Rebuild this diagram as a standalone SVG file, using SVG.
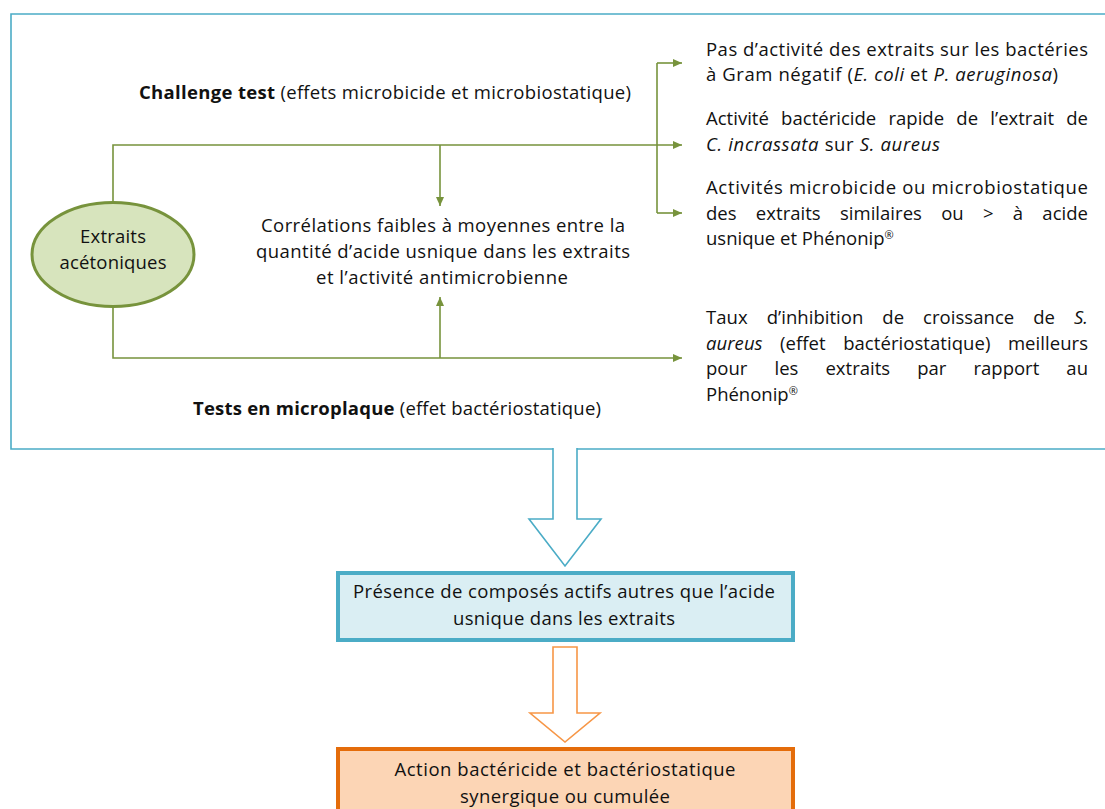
<svg xmlns="http://www.w3.org/2000/svg" width="1105" height="809" viewBox="0 0 1105 809">
<style>
text{font-family:"Open Sans","Noto Sans","Liberation Sans",sans-serif;font-size:18.5px;fill:#111}
.b{font-weight:bold}
.i{font-style:italic}
.m{text-anchor:middle}
.sup{font-size:11px}
.g{fill:none;stroke:#77933C;stroke-width:1.6}
</style>
<defs>
<marker id="ah" markerUnits="userSpaceOnUse" markerWidth="10" markerHeight="10" viewBox="0 0 10 10" refX="9" refY="5" orient="auto">
<path d="M0,1 L9,5 L0,9 Z" fill="#77933C"/>
</marker>
</defs>
<rect width="1105" height="809" fill="#fff"/>
<g id="frame">
<path d="M553,449 H11 V14 H1110 V449 H577" fill="none" stroke="#4BACC6" stroke-width="1.6"/>
</g>
<g id="connectors">
<path class="g" d="M113,203 V145 H682" marker-end="url(#ah)"/>
<path class="g" d="M657,63 H682" marker-end="url(#ah)"/>
<path class="g" d="M657,63 V213"/>
<path class="g" d="M657,213 H682" marker-end="url(#ah)"/>
<path class="g" d="M440,145 V206" marker-end="url(#ah)"/>
<path class="g" d="M113,306 V358 H682" marker-end="url(#ah)"/>
<path class="g" d="M440,358 V297" marker-end="url(#ah)"/>
<path d="M553,448 V519 H529 L565,566 L601,519 H577 V448" fill="#fff" stroke="#4BACC6" stroke-width="1.6"/>
<path d="M553,647 V713 H530 L565,742 L600,713 H577 V647 Z" fill="#fff" stroke="#F79646" stroke-width="1.6"/>
</g>
<g id="extraits">
<ellipse cx="113" cy="254.5" rx="81" ry="52" fill="#D7E4BD" stroke="#77933C" stroke-width="3"/>
<text class="m" x="113" y="243" textLength="66" lengthAdjust="spacing">Extraits</text>
<text class="m" x="113" y="269" textLength="107" lengthAdjust="spacing">acétoniques</text>
</g>
<g id="challenge">
<text x="139" y="99" textLength="492" lengthAdjust="spacing"><tspan class="b">Challenge test</tspan> (effets microbicide et microbiostatique)</text>
</g>
<g id="microplaque">
<text x="193" y="415" textLength="408" lengthAdjust="spacing"><tspan class="b">Tests en microplaque</tspan> (effet bactériostatique)</text>
</g>
<g id="correlations">
<text class="m" x="443" y="232" textLength="364" lengthAdjust="spacing">Corrélations faibles à moyennes entre la</text>
<text class="m" x="443" y="258" textLength="374" lengthAdjust="spacing">quantité d’acide usnique dans les extraits</text>
<text class="m" x="442" y="284" textLength="252" lengthAdjust="spacing">et l’activité antimicrobienne</text>
</g>
<g id="gram">
<text x="706" y="56" textLength="382" lengthAdjust="spacing">Pas d’activité des extraits sur les bactéries</text>
<text x="706" y="81" textLength="352" lengthAdjust="spacing">à Gram négatif (<tspan class="i">E. coli</tspan> et <tspan class="i">P. aeruginosa</tspan>)</text>
</g>
<g id="incrassata">
<text x="706" y="125" style="word-spacing:7.4px" textLength="382" lengthAdjust="spacing">Activité bactéricide rapide de l’extrait de</text>
<text x="706" y="151" textLength="234" lengthAdjust="spacing"><tspan class="i">C. incrassata</tspan> sur <tspan class="i">S. aureus</tspan></text>
</g>
<g id="similaires">
<text x="706" y="194" textLength="382" lengthAdjust="spacing">Activités microbicide ou microbiostatique</text>
<text x="706" y="220" style="word-spacing:14.4px" textLength="382" lengthAdjust="spacing">des extraits similaires ou &gt; à acide</text>
<text x="706" y="245">usnique et Phénonip<tspan class="sup" dy="-6">®</tspan></text>
</g>
<g id="inhibition">
<text x="706" y="324" style="word-spacing:14.1px" textLength="382" lengthAdjust="spacing">Taux d’inhibition de croissance de <tspan class="i">S.</tspan></text>
<text x="706" y="350" style="word-spacing:12.6px" textLength="382" lengthAdjust="spacing"><tspan class="i">aureus</tspan> (effet bactériostatique) meilleurs</text>
<text x="706" y="375" style="word-spacing:22.3px" textLength="382" lengthAdjust="spacing">pour les extraits par rapport au</text>
<text x="706" y="401">Phénonip<tspan class="sup" dy="-6">®</tspan></text>
</g>
<g id="presence">
<rect x="338" y="573" width="455" height="67" fill="#DAEEF3" stroke="#4BACC6" stroke-width="4"/>
<text class="m" x="564" y="598" textLength="422" lengthAdjust="spacing">Présence de composés actifs autres que l’acide</text>
<text class="m" x="564" y="625" textLength="222" lengthAdjust="spacing">usnique dans les extraits</text>
</g>
<g id="action">
<rect x="338" y="749" width="455" height="70" fill="#FCD5B5" stroke="#E46C0A" stroke-width="4"/>
<text class="m" x="565" y="776" textLength="341" lengthAdjust="spacing">Action bactéricide et bactériostatique</text>
<text class="m" x="565" y="803" textLength="210" lengthAdjust="spacing">synergique ou cumulée</text>
</g>
</svg>
